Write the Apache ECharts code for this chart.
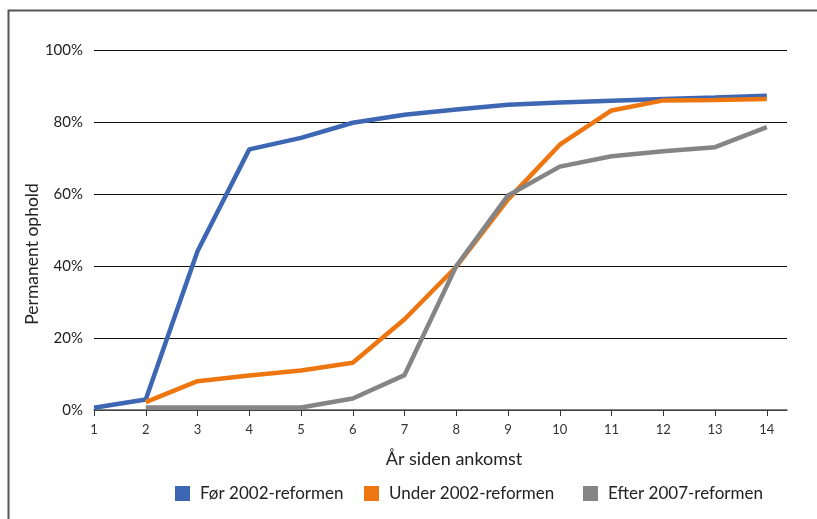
<!DOCTYPE html>
<html>
<head>
<meta charset="utf-8">
<script src="https://cdn.jsdelivr.net/npm/echarts@6/dist/echarts.min.js"></script>
<style>html,body{margin:0;padding:0;background:#fff}#c{width:817px;height:519px}</style>
</head>
<body>
<div id="c"></div>
<script>
var years = [1,2,3,4,5,6,7,8,9,10,11,12,13,14];
var yTicks = [0,20,40,60,80,100];
var seriesNames = ['Før 2002-reformen','Under 2002-reformen','Efter 2007-reformen'];
var before2002 = [0.6,2.9,44.1,72.4,75.6,79.8,82.0,83.5,84.8,85.4,85.9,86.4,86.8,87.3];
var under2002 = [null,2.2,8.0,9.6,11.0,13.1,25.2,39.8,58.5,73.7,83.2,86.0,86.1,86.4];
var after2007 = [null,0.7,0.7,0.7,0.7,3.2,9.7,40.0,59.6,67.6,70.5,71.9,73.0,78.6];
var colors = ['#3D66B3','#EE7610','#858585'];
var legendLeft = [175, 364, 583];

function pairs(vals){ var out=[]; for(var i=0;i<years.length;i++){ if(vals[i]!==null) out.push([years[i], vals[i]]); } return out; }

var font = 'Lato, "Open Sans", sans-serif';
var legends = seriesNames.map(function(n, i){
  return {
    left:legendLeft[i], top:485, padding:0, itemWidth:15, itemHeight:15, icon:'rect',
    textStyle:{fontFamily:font, fontSize:17, color:'#222', padding:[0,0,0,5]},
    data:[n]
  };
});
var chart = echarts.init(document.getElementById('c'), null, {renderer:'canvas'});
chart.setOption({
  animation:false,
  backgroundColor:'#fff',
  grid:{left:94, right:30, top:50, bottom:109, containLabel:false},
  xAxis:{
    type:'value', min:1, max:14.39,
    axisLine:{show:true, lineStyle:{color:'#555', width:1.5}},
    axisTick:{show:true, length:6, lineStyle:{color:'#333'}, customValues:years},
    axisLabel:{fontFamily:font, fontSize:13, color:'#333', margin:13, customValues:years},
    splitLine:{show:false}
  },
  yAxis:{
    type:'value', min:0, max:100, interval:20,
    axisLine:{show:false}, axisTick:{show:false},
    axisLabel:{fontFamily:font, fontSize:15, color:'#222', margin:11, formatter:function(v){return v+'%';}},
    splitLine:{show:true, lineStyle:{color:'#111', width:1.2}}
  },
  legend:legends,
  graphic:[
    {type:'polyline', shape:{points:[[8.5,519],[8.5,10.5],[817,10.5]]}, style:{stroke:'#555', lineWidth:2, fill:null}, silent:true},
    {type:'text', x:32, y:254, rotation:Math.PI/2, style:{text:'Permanent ophold', fontFamily:font, fontSize:17.5, fill:'#222', align:'center', verticalAlign:'middle'}},
    {type:'text', x:454, y:459, style:{text:'År siden ankomst', fontFamily:font, fontSize:18, fill:'#222', align:'center', verticalAlign:'middle'}}
  ],
  series:[
    {name:seriesNames[0], type:'line', data:pairs(before2002), showSymbol:false, symbol:'none', lineStyle:{width:4.5, color:colors[0]}, itemStyle:{color:colors[0]}, z:3},
    {name:seriesNames[1], type:'line', data:pairs(under2002), showSymbol:false, symbol:'none', lineStyle:{width:4.5, color:colors[1]}, itemStyle:{color:colors[1]}, z:4},
    {name:seriesNames[2], type:'line', data:pairs(after2007), showSymbol:false, symbol:'none', lineStyle:{width:4.5, color:colors[2]}, itemStyle:{color:colors[2]}, z:5}
  ]
});
</script>
</body>
</html>
